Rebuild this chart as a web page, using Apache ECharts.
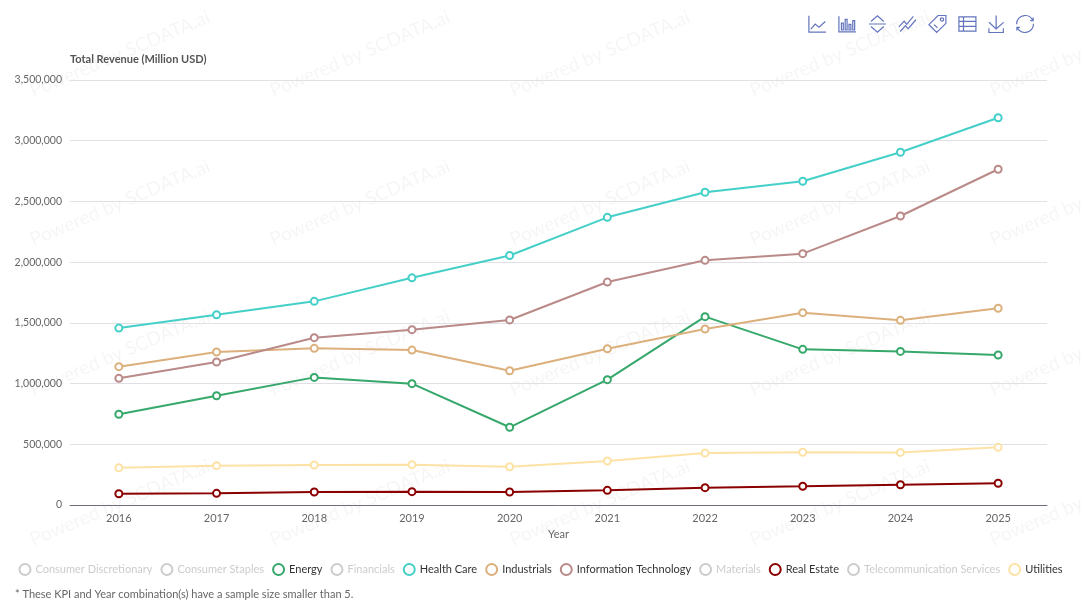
<!DOCTYPE html>
<html>
<head>
<meta charset="utf-8">
<script src="https://cdn.jsdelivr.net/npm/echarts@6/dist/echarts.min.js"></script>
<style>
html,body{margin:0;padding:0;background:#fff;}
#chart{width:1081px;height:605px;}
</style>
</head>
<body>
<div id="chart"></div>
<script>
var years = ['2016','2017','2018','2019','2020','2021','2022','2023','2024','2025'];
var seriesNames = ['Consumer Discretionary','Consumer Staples','Energy','Financials','Health Care','Industrials','Information Technology','Materials','Real Estate','Telecommunication Services','Utilities'];
var energy = [747000, 900000, 1051000, 999000, 640000, 1032000, 1551000, 1282000, 1265000, 1235000];
var healthCare = [1457000, 1567000, 1677000, 1871000, 2055000, 2369000, 2576000, 2666000, 2905000, 3189000];
var industrials = [1139000, 1260000, 1290000, 1276000, 1106000, 1287000, 1449000, 1584000, 1521000, 1620000];
var infoTech = [1043000, 1178000, 1378000, 1444000, 1524000, 1836000, 2015000, 2070000, 2380000, 2765000];
var realEstate = [93000, 96000, 107000, 110000, 107000, 121000, 143000, 154000, 167000, 179000];
var utilities = [307000, 324000, 329000, 332000, 315000, 362000, 428000, 434000, 433000, 475000];
var seriesData = {
  'Consumer Discretionary': [],
  'Consumer Staples': [],
  'Energy': energy,
  'Financials': [],
  'Health Care': healthCare,
  'Industrials': industrials,
  'Information Technology': infoTech,
  'Materials': [],
  'Real Estate': realEstate,
  'Telecommunication Services': [],
  'Utilities': utilities
};
var seriesColors = {
  'Consumer Discretionary': '#5470c6',
  'Consumer Staples': '#91cc75',
  'Energy': '#36a86b',
  'Financials': '#fac858',
  'Health Care': '#44d0c8',
  'Industrials': '#dcb07c',
  'Information Technology': '#b98a88',
  'Materials': '#9a60b4',
  'Real Estate': '#8b0000',
  'Telecommunication Services': '#ea7ccc',
  'Utilities': '#fde2a6'
};
var hiddenSeries = ['Consumer Discretionary','Consumer Staples','Financials','Materials','Telecommunication Services'];

var FONT = 'Lato';
var chart = echarts.init(document.getElementById('chart'));

var selected = {};
seriesNames.forEach(function(n){ selected[n] = hiddenSeries.indexOf(n) < 0; });

var series = seriesNames.map(function(n){
  return {
    name: n,
    type: 'line',
    data: seriesData[n],
    symbol: 'emptyCircle',
    symbolSize: 7,
    lineStyle: { width: 2, color: seriesColors[n] },
    itemStyle: { color: seriesColors[n], borderWidth: 2 },
    z: 3
  };
});

var watermarks = [];
var wmCols = [120, 360, 600, 840, 1080];
var wmRows = [54, 203, 353, 503];
wmRows.forEach(function(yy){
  wmCols.forEach(function(xx){
    watermarks.push({
      type: 'text', x: xx, y: yy, rotation: 0.40, silent: true, z: -10,
      style: { text: 'Powered by SCDATA.ai', fontSize: 19, fontFamily: FONT, fill: 'rgba(0,0,0,0.04)', align: 'center', verticalAlign: 'middle' }
    });
  });
});
watermarks.push({
  type: 'text', left: 15, top: 589, silent: true,
  style: { text: '* These KPI and Year combination(s) have a sample size smaller than 5.', fontSize: 11, fontFamily: FONT, fill: '#666' }
});

var iconColor = '#6274bd';
var option = {
  backgroundColor: '#fff',
  textStyle: { fontFamily: FONT },
  graphic: watermarks,
  toolbox: {
    right: 30, top: -2, itemSize: 17, itemGap: 8,
    iconStyle: { borderColor: iconColor, borderWidth: 1.2 },
    feature: {
      magicType: {
        type: ['line', 'bar', 'stack'],
        icon: {
          line: 'path://M4,4V56H58 M10,46L24,30L36,40L56,22',
          bar: 'path://M4,6V56H58 M12,50V28H18V50Z M24,50V16H30V50Z M36,50V32H42V50Z M48,50V20H54V50Z',
          stack: 'path://M12,24L30,8L48,24 M6,31H54 M12,38L30,54L48,38'
        }
      },
      myTiled: { show: true, title: 'Tiled', icon: 'path://M4,40L20,22L28,32L48,8 M8,54L24,36L32,46L56,18', onclick: function(){} },
      myLabel: { show: true, title: 'Label', icon: 'path://M32,4H56V28L28,56L4,32Z M44,16m-5,0a5,5 0 1,0 10,0a5,5 0 1,0 -10,0 M20,32L30,42', onclick: function(){} },
      dataView: { show: true, readOnly: true, icon: 'path://M4,8H56V52H4Z M4,22H56 M4,37H56 M18,8V52' },
      saveAsImage: { show: true },
      restore: { show: true }
    }
  },
  legend: {
    bottom: 24, left: 'center',
    icon: 'emptyCircle',
    itemWidth: 11, itemHeight: 11, itemGap: 8,
    textStyle: { fontSize: 11, color: '#333', fontFamily: FONT },
    inactiveColor: '#ccc',
    data: seriesNames,
    selected: selected
  },
  grid: { left: 70, right: 34, top: 80, bottom: 100 },
  xAxis: {
    type: 'category',
    data: years,
    name: 'Year',
    nameLocation: 'middle',
    nameGap: 21,
    nameTextStyle: { fontSize: 11, color: '#666' },
    axisLine: { lineStyle: { color: '#6e7079' } },
    axisTick: { show: false },
    axisLabel: { fontSize: 11, color: '#666', margin: 8 }
  },
  yAxis: {
    type: 'value',
    min: 0, max: 3500000, interval: 500000,
    name: 'Total Revenue (Million USD)',
    nameLocation: 'end',
    nameGap: 15,
    nameTextStyle: { align: 'left', fontWeight: 'bold', fontSize: 11, color: '#555' },
    axisLine: { show: false },
    axisTick: { show: false },
    splitLine: { lineStyle: { color: '#e0e0e6' } },
    axisLabel: {
      fontSize: 10.5, color: '#666', margin: 8,
      formatter: function(v){ return v.toLocaleString('en-US'); }
    }
  },
  series: series
};
chart.setOption(option);
</script>
</body>
</html>
